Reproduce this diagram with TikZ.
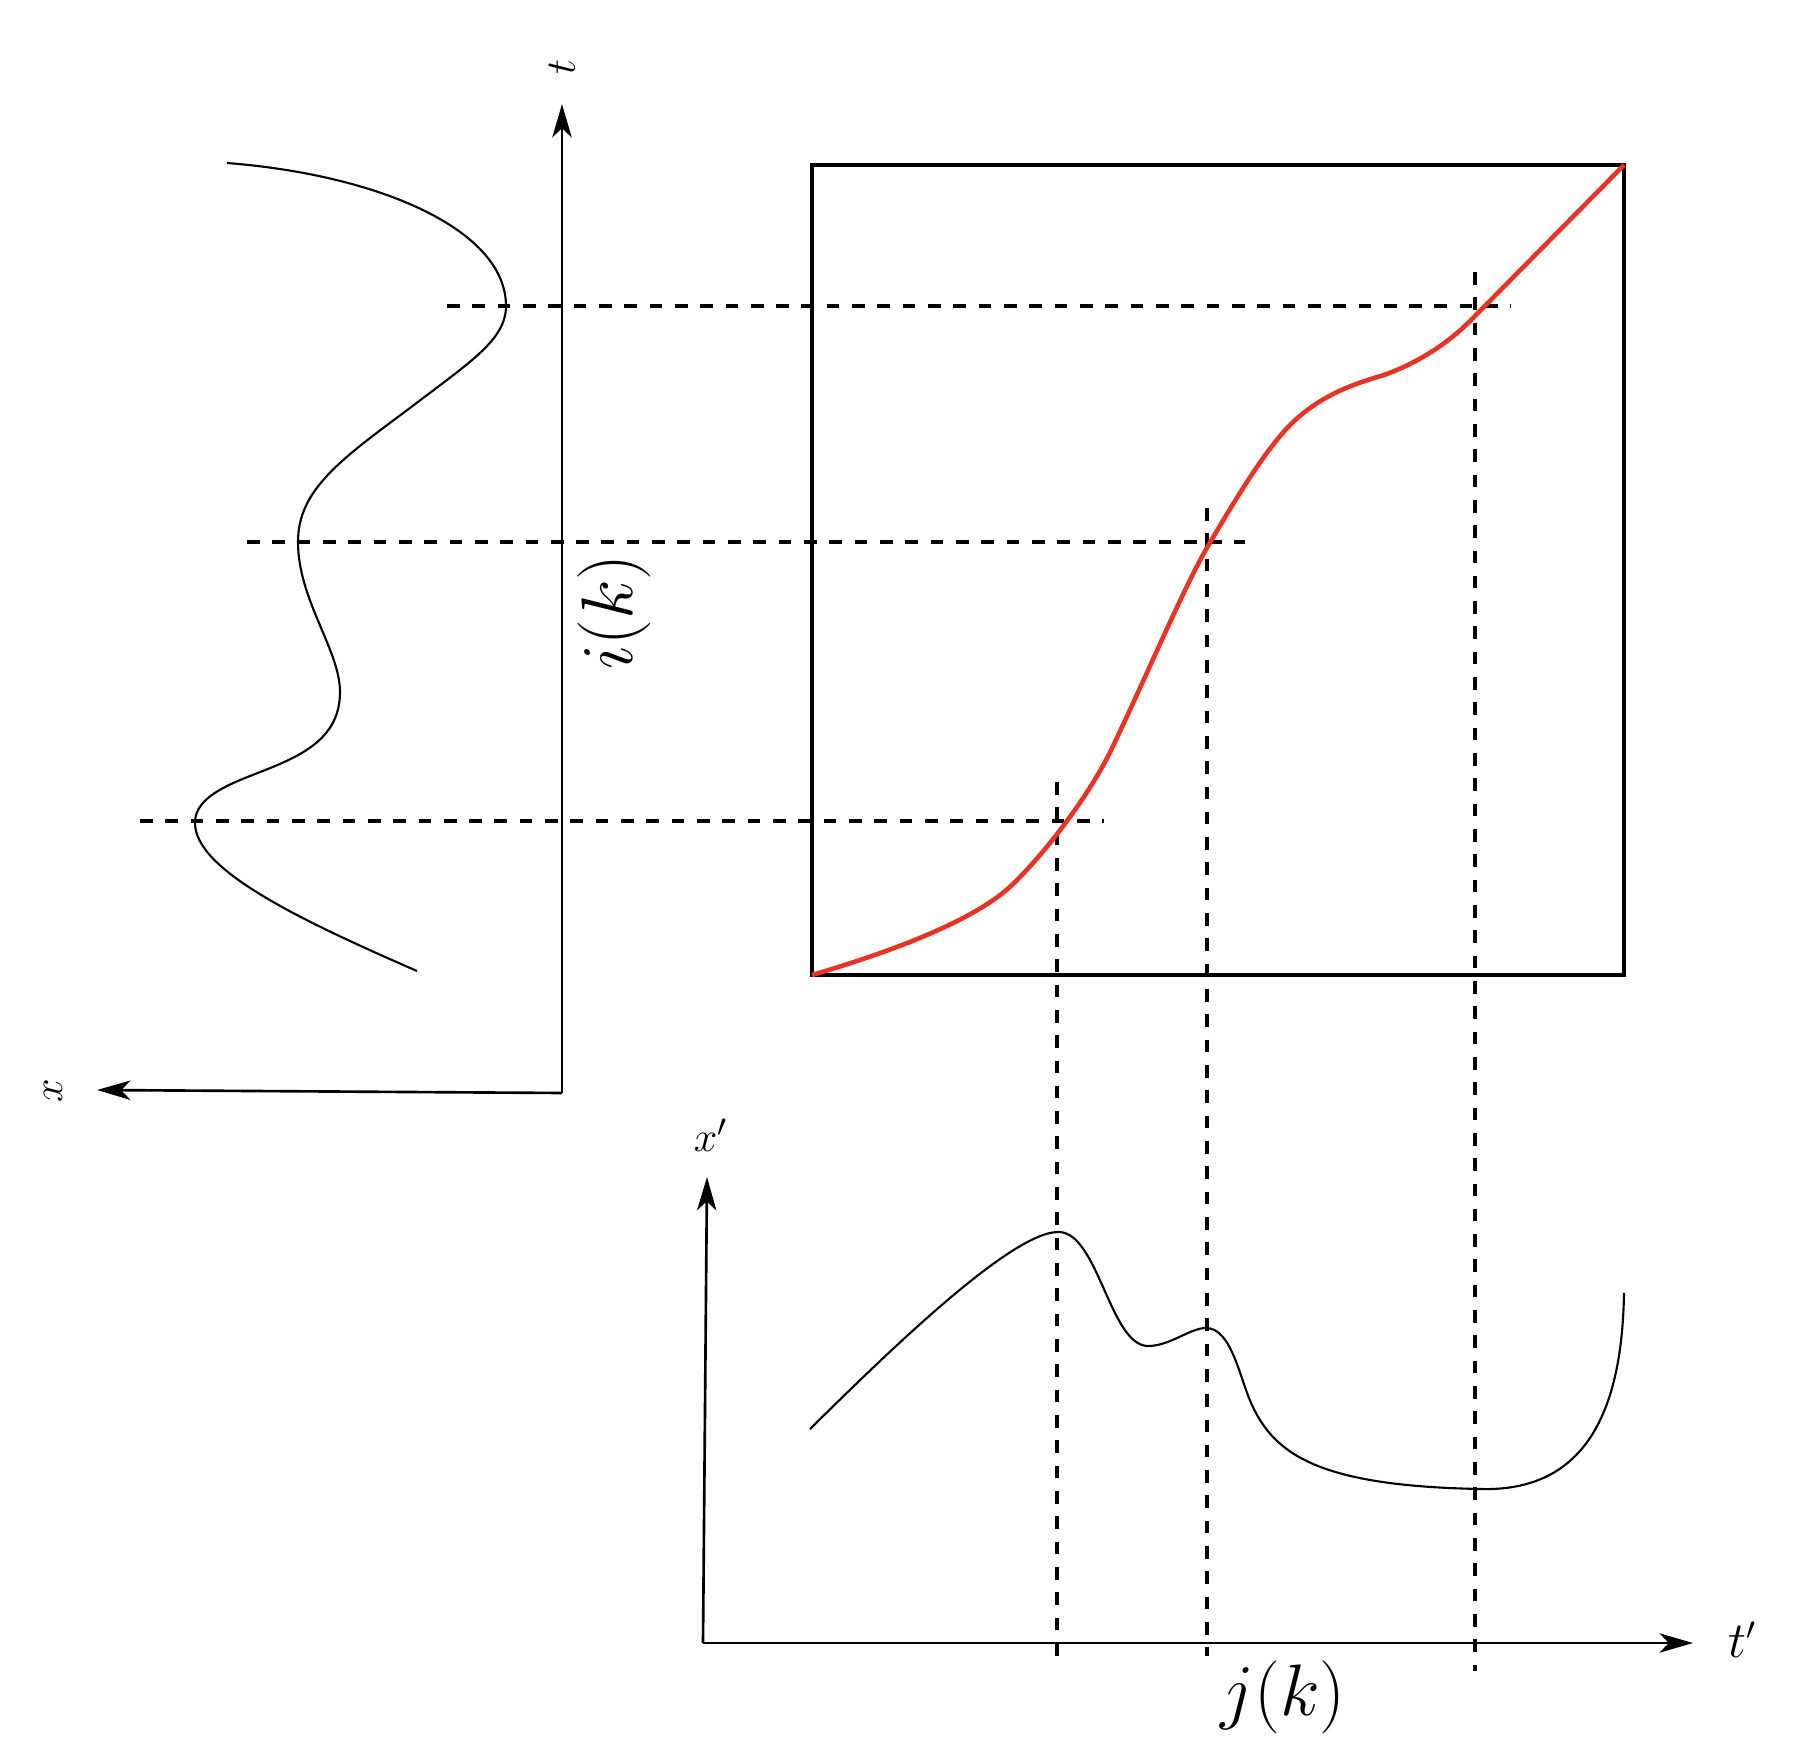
\documentclass[tikz,border=0pt]{standalone}
\usetikzlibrary{arrows.meta}
\definecolor{warp}{RGB}{232,52,38}
\begin{document}
\begin{tikzpicture}[x=0.01cm,y=-0.01cm,
  axisline/.style={line width=0.75pt,-{Stealth[length=9.5pt,width=5.5pt,inset=2.6pt]}},
  dashline/.style={line width=1.1pt,dash pattern=on 3.6pt off 3.6pt},
  signal/.style={line width=0.6pt},
  framebox/.style={line width=1.2pt},
  warppath/.style={line width=1.3pt,warp},
  smalllabel/.style={inner sep=0pt,font=\fontsize{12.5}{15}\selectfont},
  biglabel/.style={inner sep=0pt,font=\fontsize{21.5}{26}\selectfont}]
\useasboundingbox (0,0) rectangle (1808,1761);

% coordinates
\coordinate (o1) at (562,1093);
\coordinate (ttip) at (562,104);
\coordinate (xtip) at (97,1090);
\coordinate (o2) at (703,1643);
\coordinate (xptip) at (707,1177);
\coordinate (tptip) at (1693,1643);

% axes
\draw[axisline] (o1) -- (ttip);
\draw[axisline] (o1) -- (xtip);
\draw[axisline] (o2) -- (xptip);
\draw[axisline] (o2) -- (tptip);

% labels
\node[smalllabel,rotate=90] (tlab) at (562,67) {$t$};
\node[smalllabel,rotate=90] (xlab) at (53,1091) {$x$};
\node[smalllabel] (xplab) at (711,1135) {$x'$};
\node[smalllabel,font=\fontsize{13.5}{16}\selectfont] (tplab) at (1743,1640) {$t'$};
\node[biglabel,rotate=90] (ilab) at (614,612) {$i(k)$};
\node[biglabel] (jlab) at (1283,1697) {$j(k)$};

% box
\coordinate (bl) at (812,975);
\coordinate (tr) at (1624,165);
\draw[framebox] (bl) rectangle (tr);

% dashed horizontals
\coordinate (h1a) at (447,306); \coordinate (h1b) at (1511,306);
\coordinate (h2a) at (247,542); \coordinate (h2b) at (1245,542);
\coordinate (h3a) at (140,821); \coordinate (h3b) at (1104,821);
\draw[dashline] (h1a) -- (h1b);
\draw[dashline] (h2a) -- (h2b);
\draw[dashline] (h3a) -- (h3b);

% dashed verticals
\coordinate (v1a) at (1057,782); \coordinate (v1b) at (1057,1665);
\coordinate (v2a) at (1207,508); \coordinate (v2b) at (1207,1656);
\coordinate (v3a) at (1475,272); \coordinate (v3b) at (1475,1671);
\draw[dashline] (v1a) -- (v1b);
\draw[dashline] (v2a) -- (v2b);
\draw[dashline] (v3a) -- (v3b);

% left signal x(t)
\draw[signal] (227,163) .. controls (380,175) and (506,230) .. (506,306)
  .. controls (506,340) and (470,362) .. (410,408)
  .. controls (340,460) and (298,490) .. (298,542)
  .. controls (298,600) and (340,650) .. (340,692)
  .. controls (340,745) and (290,760) .. (245,778)
  .. controls (210,792) and (195,805) .. (195,823)
  .. controls (195,870) and (300,920) .. (417,971);

% bottom signal x'(t')
\draw[signal] (810,1429) .. controls (880,1360) and (1010,1232) .. (1058,1232)
  .. controls (1098,1231) and (1110,1346) .. (1148,1346)
  .. controls (1170,1346) and (1190,1328) .. (1206,1328)
  .. controls (1232,1328) and (1240,1380) .. (1252,1405)
  .. controls (1275,1455) and (1320,1486) .. (1480,1489)
  .. controls (1580,1492) and (1622,1420) .. (1624,1293);

% warping path
\draw[warppath] (bl) .. controls (880,955) and (973,923) .. (1013,884)
  .. controls (1050,848) and (1094,788) .. (1114,744)
  .. controls (1150,668) and (1185,585) .. (1208,546)
  .. controls (1235,500) and (1265,450) .. (1291,424)
  .. controls (1320,396) and (1350,385) .. (1384,375)
  .. controls (1420,362) and (1450,342) .. (1474,317)
  -- (tr);
\end{tikzpicture}
\end{document}
